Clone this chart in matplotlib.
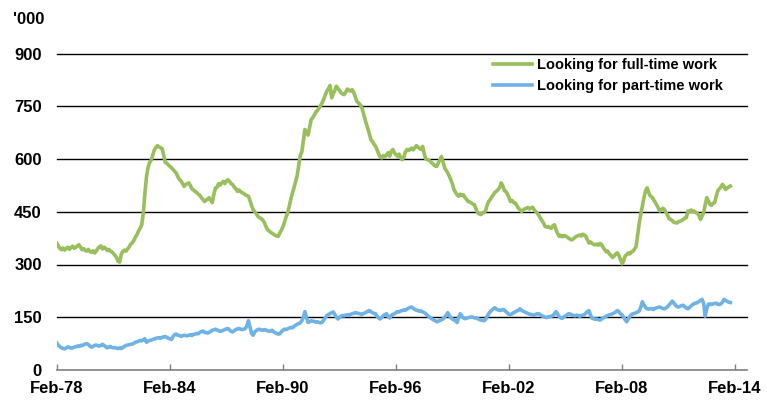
import matplotlib.pyplot as plt
import pandas as pd
from datetime import datetime

# monthly, '000, starting Feb-1978 (one row per Feb..Jan year)
full_time = [
    360, 352, 345, 342, 347, 341, 346, 349, 343, 348, 352, 346,
    349, 353, 356, 350, 342, 345, 340, 338, 343, 337, 335, 339,
    333, 338, 345, 350, 353, 344, 349, 346, 340, 343, 338, 336,
    331, 326, 320, 309, 307, 330, 337, 341, 338, 344, 350, 358,
    362, 368, 378, 385, 395, 403, 412, 445, 500, 548, 575, 590,
    596, 610, 625, 632, 638, 635, 632, 630, 612, 590, 588, 583,
    579, 575, 570, 565, 560, 550, 542, 538, 530, 522, 527, 530,
    532, 525, 515, 512, 508, 505, 500, 497, 490, 485, 479, 483,
    486, 490, 483, 476, 500, 517, 520, 530, 526, 532, 536, 530,
    538, 541, 536, 530, 527, 520, 516, 508, 512, 507, 504, 502,
    498, 496, 494, 482, 468, 456, 450, 444, 437, 433, 431, 427,
    420, 410, 400, 396, 392, 389, 386, 383, 381, 380, 390, 398,
    408, 420, 435, 447, 465, 485, 503, 518, 535, 552, 580, 610,
    620, 650, 684, 675, 668, 690, 712, 718, 725, 734, 738, 745,
    752, 760, 770, 783, 793, 800, 809, 774, 785, 795, 807, 800,
    795, 788, 785, 783, 790, 799, 796, 793, 797, 790, 778, 764,
    760, 755, 750, 735, 718, 702, 688, 672, 655, 650, 642, 636,
    625, 615, 605, 603, 610, 606, 612, 618, 608, 622, 627, 618,
    612, 608, 614, 603, 598, 605, 620, 627, 624, 628, 631, 626,
    632, 638, 634, 630, 627, 636, 615, 600, 598, 596, 593, 588,
    584, 580, 579, 588, 598, 607, 592, 574, 568, 560, 551, 540,
    528, 513, 505, 498, 494, 500, 496, 498, 490, 485, 479, 478,
    475, 472, 470, 458, 447, 444, 442, 446, 448, 452, 468, 479,
    485, 492, 498, 505, 508, 513, 518, 532, 525, 510, 508, 500,
    490, 479, 482, 476, 475, 468, 460, 456, 451, 455, 458, 460,
    462, 458, 460, 463, 456, 451, 446, 440, 432, 425, 418, 408,
    406, 408, 405, 403, 410, 413, 398, 388, 380, 383, 379, 382,
    381, 378, 375, 372, 370, 373, 377, 380, 382, 384, 381, 386,
    384, 380, 370, 361, 364, 360, 357, 356, 358, 355, 360, 356,
    348, 342, 336, 338, 330, 326, 320, 324, 330, 333, 326, 315,
    302, 310, 324, 328, 333, 330, 336, 338, 344, 352, 385, 419,
    445, 466, 490, 509, 518, 505, 495, 492, 485, 478, 470, 462,
    452, 455, 460, 457, 448, 440, 430, 428, 425, 420, 419, 418,
    422, 423, 425, 428, 432, 433, 452, 450, 455, 450, 452, 448,
    445, 440, 428, 438, 447, 470, 490, 480, 471, 468, 474, 476,
    495, 509, 515, 520, 528, 522, 513, 518, 520, 523,
]

part_time = [
    76, 70, 66, 63, 61, 60, 63, 66, 64, 62, 63, 65,
    66, 68, 67, 70, 69, 72, 74, 75, 73, 68, 65, 67,
    70, 71, 69, 68, 70, 73, 70, 66, 63, 65, 67, 64,
    63, 64, 62, 61, 63, 61, 64, 67, 70, 71, 72, 73,
    74, 76, 79, 80, 82, 84, 83, 86, 89, 79, 82, 84,
    85, 87, 88, 90, 91, 92, 90, 93, 94, 95, 93, 90,
    89, 87, 95, 101, 102, 99, 98, 96, 97, 99, 98, 97,
    99, 100, 98, 101, 102, 104, 103, 107, 109, 111, 107, 106,
    105, 107, 110, 113, 114, 116, 114, 112, 110, 111, 113, 115,
    117, 118, 114, 110, 108, 112, 115, 117, 118, 116, 115, 116,
    118, 125, 140, 122, 104, 99, 108, 112, 115, 116, 114, 113,
    115, 114, 112, 110, 111, 113, 109, 106, 104, 102, 103, 109,
    113, 116, 115, 117, 119, 121, 120, 124, 127, 130, 132, 134,
    140, 150, 166, 150, 135, 137, 140, 139, 138, 136, 137, 135,
    134, 136, 142, 148, 155, 158, 160, 163, 165, 158, 150, 145,
    150, 153, 155, 154, 156, 157, 155, 158, 160, 161, 163, 162,
    161, 160, 158, 160, 162, 164, 167, 169, 166, 163, 161, 160,
    152, 148, 145, 150, 155, 157, 160, 152, 148, 155, 158, 160,
    163, 166, 165, 168, 169, 171, 170, 173, 176, 178, 179, 175,
    172, 170, 169, 167, 168, 165, 163, 160, 155, 152, 148, 145,
    142, 140, 137, 139, 141, 143, 145, 150, 156, 163, 155, 148,
    145, 142, 140, 135, 150, 160, 153, 148, 146, 147, 149, 150,
    151, 150, 148, 149, 146, 144, 142, 141, 140, 143, 152, 160,
    165, 170, 174, 177, 173, 171, 169, 170, 172, 171, 166, 162,
    158, 157, 160, 163, 165, 168, 170, 174, 170, 167, 165, 163,
    161, 159, 158, 157, 156, 158, 160, 160, 157, 154, 152, 150,
    149, 151, 152, 153, 155, 160, 166, 158, 152, 148, 147, 151,
    154, 157, 160, 159, 157, 155, 154, 156, 155, 153, 155, 156,
    158, 162, 166, 169, 155, 147, 146, 144, 145, 143, 142, 145,
    148, 150, 153, 155, 157, 158, 160, 162, 165, 169, 166, 160,
    157, 150, 143, 137, 145, 152, 158, 160, 161, 163, 165, 168,
    180, 194, 185, 178, 174, 173, 175, 174, 172, 175, 177, 178,
    179, 177, 175, 174, 176, 180, 185, 190, 196, 190, 185, 180,
    179, 181, 183, 184, 180, 176, 174, 178, 182, 186, 189, 190,
    192, 195, 198, 201, 190, 153, 175, 187, 188, 186, 188, 189,
    190, 187, 186, 188, 193, 201, 198, 195, 193, 192,
]

y_ticks = [0, 150, 300, 450, 600, 750, 900]
tick_years = [1978, 1984, 1990, 1996, 2002, 2008, 2014]

dates = pd.date_range('1978-02-01', periods=len(full_time), freq='MS')

plt.rcParams['font.family'] = ['Liberation Sans', 'DejaVu Sans']

fig = plt.figure(figsize=(7.67, 4.0), dpi=100)
ax = fig.add_axes([57 / 767, 30 / 400, 690 / 767, 316.5 / 400])

for y in y_ticks[1:]:
    ax.axhline(y, color='black', lw=1.0, zorder=1, clip_on=False)

ax.plot(dates, full_time, color='#98BF5B', lw=2.6, label='Looking for full-time work', zorder=3)
ax.plot(dates, part_time, color='#6FB2E6', lw=2.6, label='Looking for part-time work', zorder=3)

ax.set_ylim(0, 900)
ax.set_xlim(datetime(1978, 2, 1), datetime(2014, 9, 20))
ax.set_yticks(y_ticks)
ax.set_yticklabels([str(v) for v in y_ticks], fontsize=12, fontweight='bold')
ax.tick_params(axis='y', length=0, pad=11)

ticks = [datetime(y, 2, 1) for y in tick_years]
ax.set_xticks(ticks)
ax.set_xticklabels([d.strftime('%b-%y') for d in ticks], fontsize=12, fontweight='bold')
ax.tick_params(axis='x', direction='in', length=4, width=1, color='#808080', pad=8)

for side in ['top', 'right', 'left']:
    ax.spines[side].set_visible(False)
ax.spines['bottom'].set_color('#808080')
ax.spines['bottom'].set_linewidth(1.2)
ax.spines['bottom'].set_zorder(4)

fig.text(13 / 767, 1 - 20 / 400, "'000", fontsize=12, fontweight='bold', va='center', ha='left')

leg = ax.legend(loc='upper left', bbox_to_anchor=(0.632, 0.985), frameon=False,
                borderpad=0, borderaxespad=0, handlelength=2.7, handletextpad=0.3,
                labelspacing=0.45, prop={'weight': 'bold', 'size': 10.5})

fig.savefig('out.png', dpi=100)
